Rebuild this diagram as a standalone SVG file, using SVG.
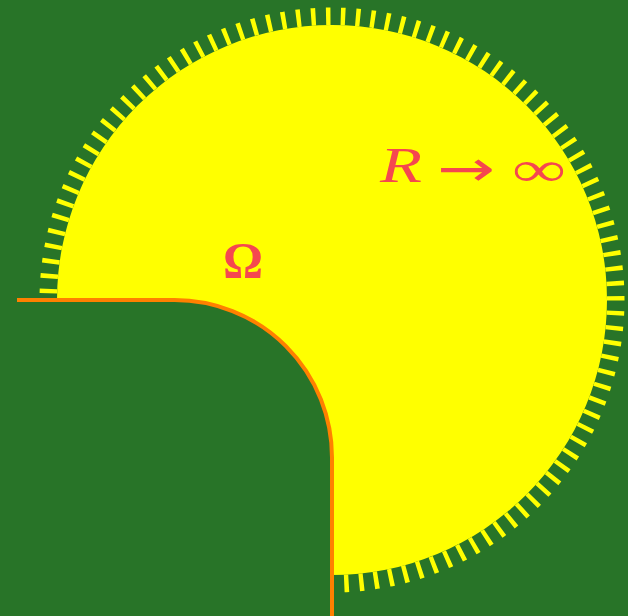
<svg xmlns="http://www.w3.org/2000/svg" width="628" height="616" viewBox="0 0 628 616">
<style>
.lbl{fill:#f5474f;font-family:"Liberation Serif","DejaVu Serif",serif;font-size:50px}
</style>
<rect id="background" x="0" y="0" width="628" height="616" fill="#287428"/>
<g id="domain">
<path d="M57,300 A275,275 0 1 1 332,575 V457.5 A157.5,157.5 0 0 0 174.5,300 Z" fill="#ffff00"/>
</g>
<g id="hatching">
<path d="M48.25,300 A283.75,283.75 0 1 1 332,583.75" fill="none" stroke="#ffff00" stroke-width="17.5" stroke-dasharray="4.5 10.42" stroke-dashoffset="8.11"/>
</g>
<g id="connectors">
<path d="M17,300 H174.5 A157.5,157.5 0 0 1 332,457.5 V616" fill="none" stroke="#ff8000" stroke-width="4"/>
</g>
<g id="label-omega">
<text class="lbl" x="223" y="277" font-weight="bold">Ω</text>
</g>
<g id="label-R">
<text class="lbl" x="380" y="182" font-style="italic" font-size="52" textLength="42" lengthAdjust="spacingAndGlyphs">R</text>
<text class="lbl" x="437" y="186" font-size="78" style="font-family:'DejaVu Sans',sans-serif" textLength="58" lengthAdjust="spacingAndGlyphs">→</text>
<text class="lbl" x="512" y="186" font-size="76" textLength="54" lengthAdjust="spacingAndGlyphs">∞</text>
</g>
</svg>
